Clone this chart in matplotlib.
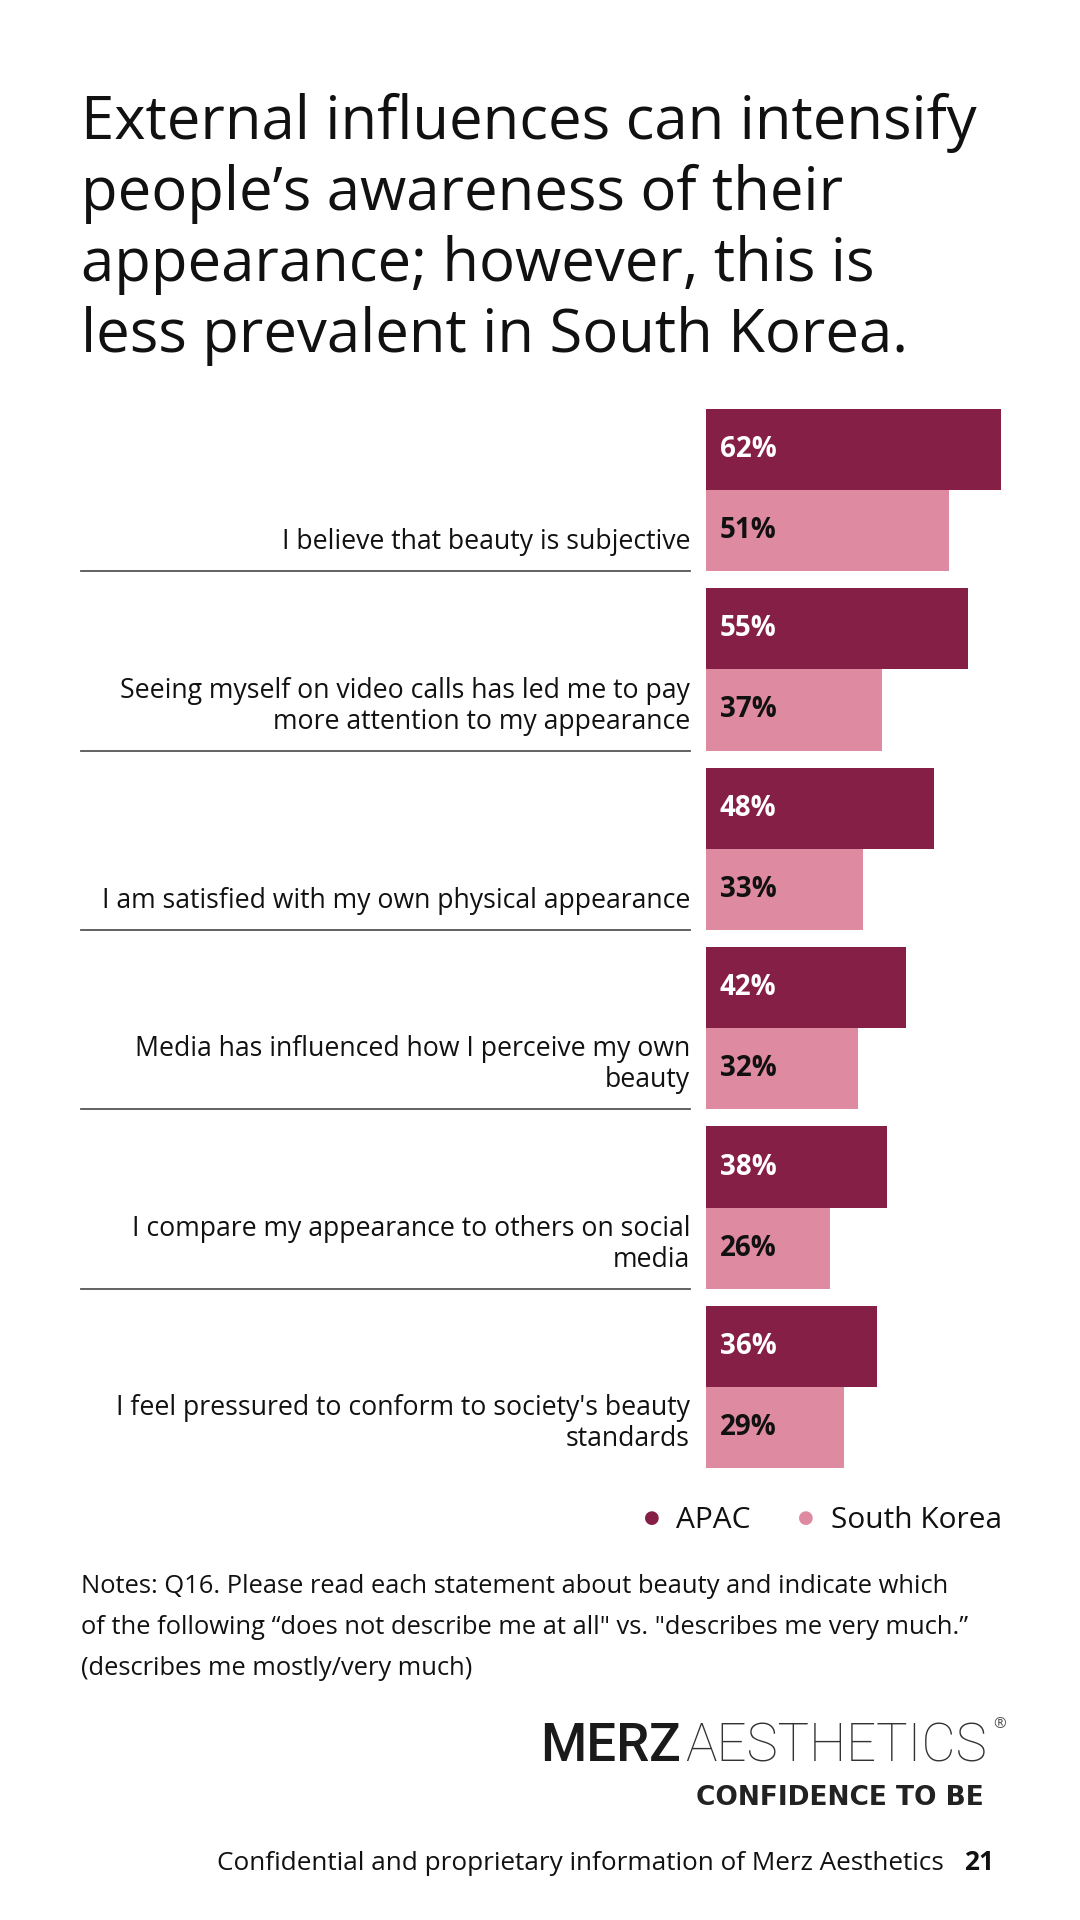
import matplotlib
matplotlib.use("Agg")
import matplotlib.pyplot as plt
from matplotlib import transforms
from matplotlib.lines import Line2D

plt.rcParams['font.family'] = ['Open Sans', 'DejaVu Sans']

# data
statements = [
    "I believe that beauty is subjective",
    "Seeing myself on video calls has led me to pay\nmore attention to my appearance",
    "I am satisfied with my own physical appearance",
    "Media has influenced how I perceive my own\nbeauty",
    "I compare my appearance to others on social\nmedia",
    "I feel pressured to conform to society's beauty\nstandards",
]
apac = [62, 55, 48, 42, 38, 36]
south_korea = [51, 37, 33, 32, 26, 29]
series_names = ["APAC", "South Korea"]

title_lines = [
    "External influences can intensify",
    "people\u2019s awareness of their",
    "appearance; however, this is",
    "less prevalent in South Korea.",
]
note_lines = [
    "Notes: Q16. Please read each statement about beauty and indicate which",
    "of the following \u201cdoes not describe me at all\" vs. \"describes me very much.\u201d",
    "(describes me mostly/very much)",
]

DARK = "#861F45"
PINK = "#DE8AA1"
TXT = "#111111"

W, H = 1080, 1920
fig = plt.figure(figsize=(W / 100, H / 100), dpi=100)
fig.patch.set_facecolor("white")


def fx(x):
    return x / W


def fy(y):
    return 1 - y / H


# title
for i, line in enumerate(title_lines):
    fig.text(fx(81), fy(139 + 71 * i), line, fontsize=43, color=TXT,
             va="baseline", ha="left")

# bars
ax = fig.add_axes([fx(706), fy(1468), (1001 - 706) / W, (1468 - 409) / H])
ax.set_xlim(0, 62)
bh = 0.452
n = len(statements)
ax.set_ylim(n - 1 + 2 * bh, 0)
ax.axis("off")

y_apac = [i + bh / 2 for i in range(n)]
y_sk = [i + 1.5 * bh for i in range(n)]
ax.barh(y_apac, apac, height=bh, color=DARK)
ax.barh(y_sk, south_korea, height=bh, color=PINK)

val_tr = transforms.offset_copy(ax.transData, fig=fig, x=14, y=0, units="dots")
for i in range(n):
    ax.text(0, y_apac[i], f"{apac[i]}%", transform=val_tr, color="white",
            fontsize=20, fontweight="bold", va="center", ha="left")
    ax.text(0, y_sk[i], f"{south_korea[i]}%", transform=val_tr, color=TXT,
            fontsize=20, fontweight="bold", va="center", ha="left")

# statement labels and separators
blend = transforms.blended_transform_factory(fig.transFigure, ax.transData)
for i, label in enumerate(statements):
    sep = i + 2 * bh
    lines = label.split("\n")
    for j, line in enumerate(lines):
        off = 22 + 31 * (len(lines) - 1 - j)
        tr = transforms.offset_copy(blend, fig=fig, x=0, y=off, units="dots")
        ax.text(fx(690), sep, line, transform=tr, fontsize=19.2, color=TXT,
                ha="right", va="baseline", clip_on=False)
    if i < n - 1:
        ax.add_line(Line2D([fx(81), fx(690)], [sep, sep], transform=blend,
                           color="#555555", lw=1.3, clip_on=False))

# legend
fig.text(fx(652), fy(1518), "\u25CF", color=DARK, fontsize=13, ha="center", va="center",
         family="DejaVu Sans")
fig.text(fx(676), fy(1528), series_names[0], color=TXT, fontsize=21.5, va="baseline")
fig.text(fx(806), fy(1518), "\u25CF", color=PINK, fontsize=13, ha="center", va="center",
         family="DejaVu Sans")
fig.text(fx(831), fy(1528), series_names[1], color=TXT, fontsize=21.5, va="baseline")

# notes
for i, line in enumerate(note_lines):
    fig.text(fx(81), fy(1593 + 41 * i), line, fontsize=18.4, color=TXT, va="baseline")

# logo
fig.text(fx(540), fy(1761), "MERZ", fontsize=38, fontweight="medium", color="#1a1a1a",
         va="baseline", ha="left", family="Roboto")
fig.text(fx(987), fy(1761), "AESTHETICS", fontsize=38, fontweight="ultralight", color="#333333",
         va="baseline", ha="right", family="Roboto")
fig.text(fx(1000), fy(1725), "\u00AE", fontsize=11, color="#555555", ha="center", va="center")
fig.text(fx(984), fy(1805), "CONFIDENCE TO BE", fontsize=19, fontweight="bold",
         color="#222222", va="baseline", ha="right", family="DejaVu Sans")

# footer
fig.text(fx(944), fy(1870), "Confidential and proprietary information of Merz Aesthetics",
         fontsize=18.8, color=TXT, va="baseline", ha="right")
fig.text(fx(994), fy(1870), "21", fontsize=19, fontweight="bold", color=TXT,
         va="baseline", ha="right")

fig.savefig("out.png", dpi=100, facecolor="white")
